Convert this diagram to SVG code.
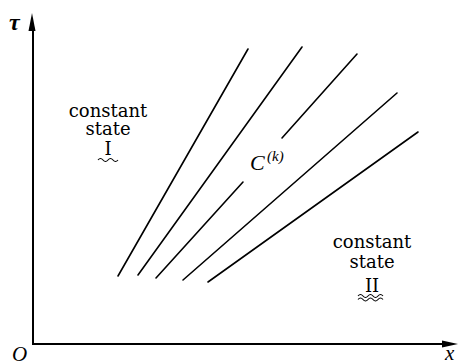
<svg xmlns="http://www.w3.org/2000/svg" width="460" height="363" viewBox="0 0 460 363">
<defs>
<style>
.ax{stroke:#000;stroke-width:2;fill:none}
.ch{stroke:#000;stroke-width:1.6;fill:none;stroke-linecap:round}
.t{font-family:"DejaVu Serif","Liberation Serif",serif;font-size:18px;fill:#000;text-anchor:middle}
.it{font-family:"Liberation Serif","DejaVu Serif",serif;font-style:italic;fill:#000}
.wv{stroke:#000;stroke-width:1.1;fill:none}
</style>
</defs>
<rect width="460" height="363" fill="#fff"/>
<g id="axes">
<line class="ax" x1="33" y1="344" x2="33" y2="28"/>
<polygon points="32,13 28.5,31 35.5,31" fill="#000"/>
<line class="ax" x1="32" y1="344" x2="444" y2="344"/>
<polygon points="458,344 442,340.5 442,347.5" fill="#000"/>
<text class="it" x="9" y="30" font-size="24" font-weight="bold">τ</text>
<text class="it" x="12" y="361" font-size="21">O</text>
<text class="it" x="445" y="360" font-size="21">x</text>
</g>
<g id="connectors">
<line class="ch" x1="118" y1="276" x2="248" y2="49"/>
<line class="ch" x1="138" y1="275" x2="302" y2="47"/>
<line class="ch" x1="156" y1="278" x2="243" y2="182"/>
<line class="ch" x1="282" y1="138" x2="357" y2="54"/>
<line class="ch" x1="183" y1="280" x2="397" y2="93"/>
<line class="ch" x1="208" y1="282" x2="418" y2="132"/>
</g>
<g id="label-ck">
<text class="it" x="250" y="170" font-size="22">C</text>
<text class="it" x="267" y="161" font-size="15">(k)</text>
</g>
<g id="state-I">
<text class="t" x="108" y="117">constant</text>
<text class="t" x="108" y="135">state</text>
<text class="t" x="108" y="155">I</text>
<path class="wv" d="M98,160 q2.5,-3 5,0 t5,0 t5,0 t5,0"/>
</g>
<g id="state-II">
<text class="t" x="372" y="248">constant</text>
<text class="t" x="372" y="268">state</text>
<text class="t" x="372" y="292">II</text>
<path class="wv" d="M358,296 q2.5,-3 5,0 t5,0 t5,0 t5,0 t5,0"/>
<path class="wv" d="M358,299.5 q2.5,-3 5,0 t5,0 t5,0 t5,0 t5,0"/>
</g>
</svg>
